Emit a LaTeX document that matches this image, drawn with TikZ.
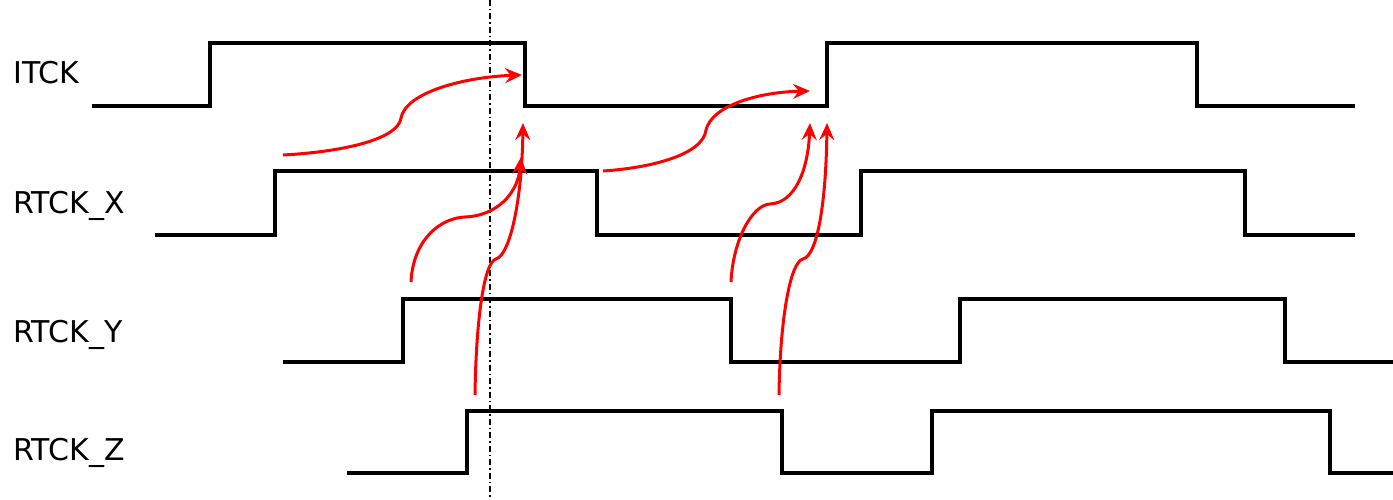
\documentclass[tikz,border=0pt]{standalone}
\usepackage{fontspec}
\setmainfont{DejaVu Sans}
\usetikzlibrary{arrows.meta}
\begin{document}
\begin{tikzpicture}[x=1pt,y=-1pt,
  wave/.style={line width=4.2pt, line join=miter},
  cause/.style={red, line width=3pt, -{Stealth[length=17pt,width=15pt,inset=6pt]}},
  marker/.style={line width=1.5pt, dash pattern=on 6pt off 3pt on 1.5pt off 3pt},
  lbl/.style={anchor=base west, inner sep=0pt, font=\fontsize{30}{36}\selectfont}]
\useasboundingbox[fill=white] (0,0) rectangle (1393,500);
% labels
\node[lbl] (litck) at (13,84) {ITCK};
\node[lbl] (lx) at (13,213) {RTCK\_X};
\node[lbl] (ly) at (13,342) {RTCK\_Y};
\node[lbl] (lz) at (13,460) {RTCK\_Z};
% marker line
\coordinate (mtop) at (490,0);
\coordinate (mbot) at (490,500);
\draw[marker] (mtop) -- (mbot);
% waveforms
\draw[wave] (92,106) -| (210,43) -| (525,106) -| (827,43) -| (1197,106) -- (1355,106);
\draw[wave] (155,235) -| (275,171) -| (597,235) -| (861,171) -| (1245,235) -- (1355,235);
\draw[wave] (283,362) -| (403,299) -| (731,362) -| (960,299) -| (1285,362) -- (1393,362);
\draw[wave] (347,473) -| (467,411) -| (782,473) -| (932,411) -| (1330,473) -- (1393,473);
% causal arrows
\coordinate (a1s) at (283,155); \coordinate (a1m) at (401,118); \coordinate (a1e) at (522,75);
\coordinate (a2s) at (603,171); \coordinate (a2m) at (706,130); \coordinate (a2e) at (810,91);
\coordinate (a3s) at (411,282); \coordinate (a3m) at (465,217); \coordinate (a3e) at (521,157);
\coordinate (a4s) at (475,395); \coordinate (a4m) at (496,259); \coordinate (a4e) at (523,123);
\coordinate (a5s) at (731,282); \coordinate (a5m) at (770,204); \coordinate (a5e) at (810,123);
\coordinate (a6s) at (779,395); \coordinate (a6m) at (803,259); \coordinate (a6e) at (827,123);
\draw[cause] (a1s) .. controls (340,152) and (398,140) .. (a1m) .. controls (406,92) and (465,77) .. (a1e);
\draw[cause] (a2s) .. controls (650,168) and (703,155) .. (a2m) .. controls (712,105) and (760,92) .. (a2e);
\draw[cause] (a3s) .. controls (413,240) and (440,218) .. (a3m) .. controls (495,216) and (518,195) .. (a3e);
\draw[cause] (a4s) .. controls (476,320) and (484,262) .. (a4m) .. controls (510,255) and (522,200) .. (a4e);
\draw[cause] (a5s) .. controls (733,240) and (752,205) .. (a5m) .. controls (795,203) and (808,170) .. (a5e);
\draw[cause] (a6s) .. controls (780,320) and (790,262) .. (a6m) .. controls (818,255) and (826,200) .. (a6e);
\end{tikzpicture}
\end{document}
